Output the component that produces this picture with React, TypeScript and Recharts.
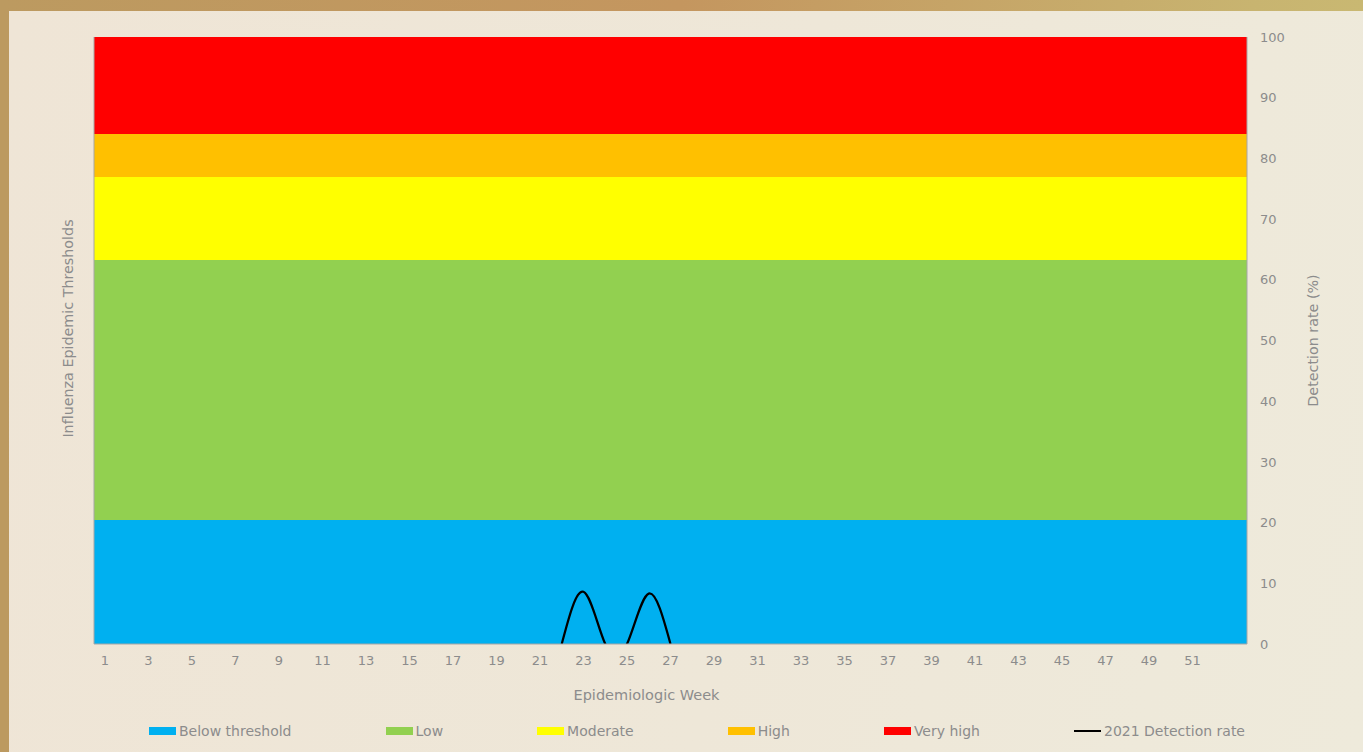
import React from "react";
import {
  ComposedChart,
  Bar,
  Line,
  XAxis,
  YAxis,
  Legend,
  Label,
} from "recharts";

// epidemiologic weeks 1..53
const weeks = [
  1, 2, 3, 4, 5, 6, 7, 8, 9, 10, 11, 12, 13, 14, 15, 16, 17, 18, 19, 20, 21, 22, 23, 24, 25, 26,
  27, 28, 29, 30, 31, 32, 33, 34, 35, 36, 37, 38, 39, 40, 41, 42, 43, 44, 45, 46, 47, 48, 49, 50,
  51, 52, 53,
];

// threshold band heights (stacked), constant for every week
const bandNames = ["Below threshold", "Low", "Moderate", "High", "Very high"];
const bandValues = [20.4, 42.9, 13.6, 7.1, 16.0];
const bandColors = ["#00B0F0", "#92D050", "#FFFF00", "#FFC000", "#FF0000"];

// 2021 detection rate (%), null where no data
const detection2021 = [
  null, null, null, null, null, null, null, null, null, null, null, null, null, null, null, null,
  null, null, null, null, null, 0, 8.6, 0, 0, 8.3, 0, null, null, null, null, null, null, null,
  null, null, null, null, null, null, null, null, null, null, null, null, null, null, null, null,
  null, null, null,
];

const rightTicks = [0, 10, 20, 30, 40, 50, 60, 70, 80, 90, 100];

const data = weeks.map((w, i) => {
  const row: Record<string, number | null> = { week: w, rate: detection2021[i] };
  bandNames.forEach((n, j) => {
    row[n] = bandValues[j];
  });
  return row;
});

const FONT = "'DejaVu Sans', sans-serif";
const TEXT = "#8c8c8c";
const BORDER = "#a6a6a6";

function LegendContent() {
  return (
    <div
      style={{
        display: "flex",
        alignItems: "center",
        paddingLeft: 149,
        height: 24,
        fontFamily: FONT,
        fontSize: 14,
        color: TEXT,
      }}
    >
      {bandNames.map((n, i) => (
        <div key={n} style={{ display: "flex", alignItems: "center", marginRight: 94 }}>
          <span style={{ width: 27, height: 8, background: bandColors[i], marginRight: 3 }} />
          <span>{n}</span>
        </div>
      ))}
      <div style={{ display: "flex", alignItems: "center" }}>
        <span style={{ width: 27, height: 2, background: "#000", marginRight: 3 }} />
        <span>2021 Detection rate</span>
      </div>
    </div>
  );
}

export default function App() {
  return (
    <div
      style={{
        position: "relative",
        width: 1363,
        height: 752,
        overflow: "hidden",
        background: "linear-gradient(90deg, #bc9a60 0%, #c4965f 50%, #c8b470 92%, #c9b872 100%)",
      }}
    >
      <style>{"body{margin:0}"}</style>
      <div
        style={{
          position: "absolute",
          left: 9,
          top: 11,
          right: 0,
          bottom: 0,
          background: "linear-gradient(100deg, #efe5d6 0%, #eee7d8 55%, #eeeadb 100%)",
        }}
      />
      <div style={{ position: "absolute", left: 0, top: 0 }}>
        <ComposedChart
          width={1363}
          height={752}
          data={data}
          margin={{ top: 37, right: 0, bottom: 24, left: 0 }}
          barCategoryGap={0}
          barGap={0}
        >
          {bandNames.map((n, i) => (
            <Bar
              key={n}
              dataKey={n}
              stackId="bands"
              yAxisId="left"
              fill={bandColors[i]}
              shapeRendering="crispEdges"
              isAnimationActive={false}
            />
          ))}
          <Line
            dataKey="rate"
            name="2021 Detection rate"
            yAxisId="right"
            type="natural"
            stroke="#000"
            strokeWidth={2.25}
            dot={false}
            activeDot={false}
            connectNulls={false}
            isAnimationActive={false}
          />
          <XAxis
            dataKey="week"
            height={60}
            interval={0}
            tickLine={false}
            tickSize={0}
            tickMargin={12}
            axisLine={{ stroke: BORDER }}
            tick={{ fill: TEXT, fontSize: 13, fontFamily: FONT }}
            tickFormatter={(v) => (v % 2 === 1 && v < 53 ? String(v) : "")}
          >
            <Label
              value="Epidemiologic Week"
              position="insideBottom"
              offset={4}
              dx={-24}
              style={{ fill: TEXT, fontSize: 14.5, fontFamily: FONT }}
            />
          </XAxis>
          <XAxis
            xAxisId="top"
            dataKey="week"
            orientation="top"
            height={0}
            tick={false}
            tickLine={false}
            axisLine={{ stroke: BORDER }}
          />
          <YAxis
            yAxisId="left"
            width={94}
            domain={[0, 100]}
            tick={false}
            tickLine={false}
            axisLine={{ stroke: BORDER }}
          >
            <Label
              value="Influenza Epidemic Thresholds"
              angle={-90}
              position="center"
              dx={21}
              dy={-12}
              style={{ fill: TEXT, fontSize: 14.3, fontFamily: FONT, textAnchor: "middle" }}
            />
          </YAxis>
          <YAxis
            yAxisId="right"
            orientation="right"
            width={116}
            domain={[0, 100]}
            ticks={rightTicks}
            allowDataOverflow
            interval={0}
            tickLine={false}
            tickSize={0}
            tickMargin={13}
            axisLine={{ stroke: BORDER }}
            tick={{ fill: TEXT, fontSize: 13, fontFamily: FONT }}
          >
            <Label
              value="Detection rate (%)"
              angle={-90}
              position="center"
              dx={8}
              style={{ fill: TEXT, fontSize: 14.3, fontFamily: FONT, textAnchor: "middle" }}
            />
          </YAxis>
          <Legend
            verticalAlign="bottom"
            content={<LegendContent />}
            wrapperStyle={{ bottom: 9, left: 0, width: 1363 }}
          />
        </ComposedChart>
      </div>
    </div>
  );
}
